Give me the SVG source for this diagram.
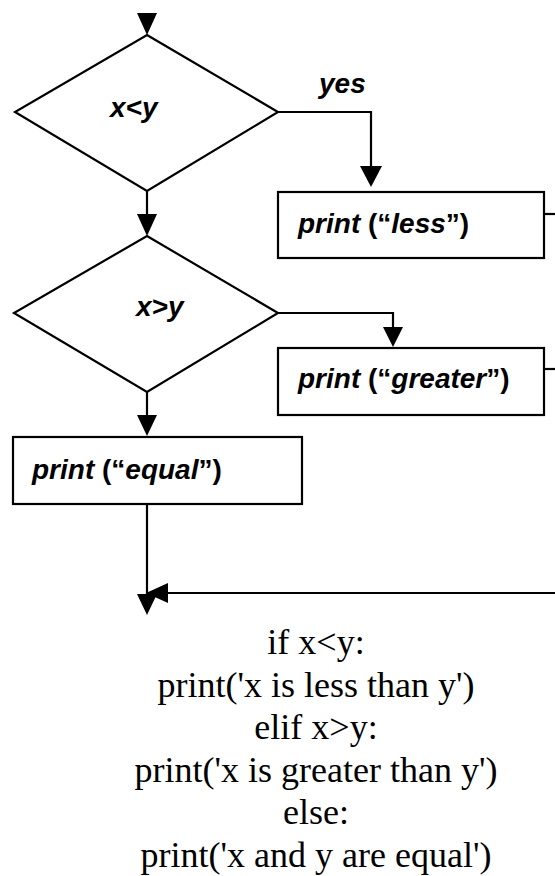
<svg xmlns="http://www.w3.org/2000/svg" width="555" height="876" viewBox="0 0 555 876">
<style>
.shape{fill:#fff;stroke:#000;stroke-width:2.2}
.line{fill:none;stroke:#000;stroke-width:2.2}
.head{fill:#000;stroke:none}
.lbl{font-family:"Liberation Sans",Arial,sans-serif;font-weight:bold;font-size:28px;fill:#000}
.it{font-style:italic}
.code{font-family:"Liberation Serif","Times New Roman","DejaVu Serif",serif;font-size:36px;fill:#000;text-anchor:middle}
</style>
<rect width="555" height="876" fill="#fff"/>
<g id="connectors">
  <polygon class="head" points="137,13 157,13 147,35"/>
  <line class="line" x1="147" y1="191" x2="147" y2="216"/>
  <polygon class="head" points="137,214 157,214 147,236"/>
  <polyline class="line" points="278,112 371,112 371,170"/>
  <polygon class="head" points="360,166 382,166 371,187"/>
  <polyline class="line" points="278,313 393,313 393,330"/>
  <polygon class="head" points="383,327 403,327 393,347"/>
  <line class="line" x1="147" y1="392" x2="147" y2="418"/>
  <polygon class="head" points="137,415 157,415 147,436"/>
  <line class="line" x1="544" y1="214" x2="555" y2="214"/>
  <line class="line" x1="544" y1="369" x2="555" y2="369"/>
  <line class="line" x1="147" y1="504" x2="147" y2="596"/>
  <polygon class="head" points="137,594 157,594 147,615"/>
  <line class="line" x1="555" y1="593" x2="165" y2="593"/>
  <polygon class="head" points="168,583 168,603 146,593"/>
</g>
<g id="yes-label"><text class="lbl it" x="319" y="93">yes</text></g>
<g id="cond1">
  <polygon class="shape" points="147,35 278,112 147,191 15,112"/>
  <text class="lbl it" x="110" y="117">x&lt;y</text>
</g>
<g id="less">
  <rect class="shape" x="278" y="192" width="266" height="66"/>
  <text class="lbl" x="298" y="233"><tspan class="it">print</tspan> (“<tspan class="it">less</tspan>”)</text>
</g>
<g id="cond2">
  <polygon class="shape" points="147,236 278,313 147,392 14,313"/>
  <text class="lbl it" x="136" y="316">x&gt;y</text>
</g>
<g id="greater">
  <rect class="shape" x="278" y="348" width="266" height="67"/>
  <text class="lbl" x="298" y="388"><tspan class="it">print</tspan> (“<tspan class="it">greater</tspan>”)</text>
</g>
<g id="equal">
  <rect class="shape" x="13" y="437" width="289" height="67"/>
  <text class="lbl" x="32" y="479"><tspan class="it">print</tspan> (“<tspan class="it">equal</tspan>”)</text>
</g>
<g id="code">
  <text class="code" x="316" y="654">if x&lt;y:</text>
  <text class="code" x="316" y="697">print('x is less than y')</text>
  <text class="code" x="316" y="739">elif x&gt;y:</text>
  <text class="code" x="316" y="782">print('x is greater than y')</text>
  <text class="code" x="316" y="824">else:</text>
  <text class="code" x="316" y="867">print('x and y are equal')</text>
</g>
</svg>
